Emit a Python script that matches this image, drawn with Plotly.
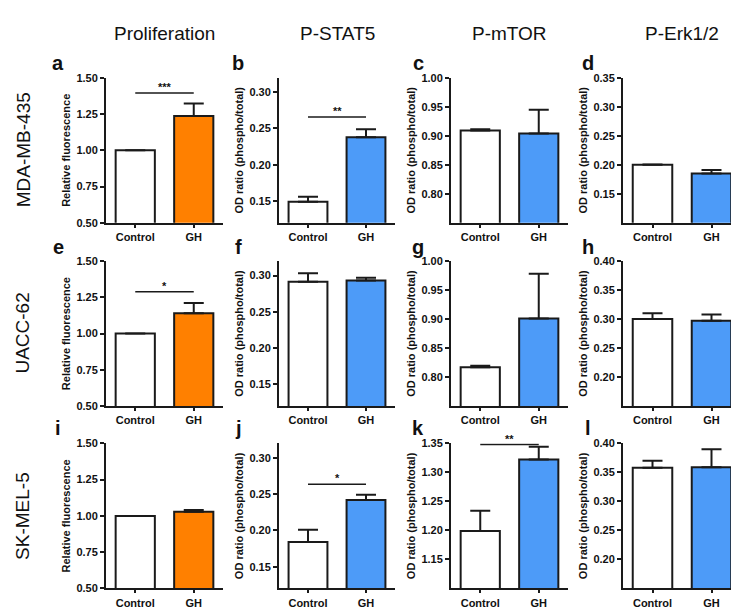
import plotly.graph_objects as go

W, H = 739, 608

categories = ["Control", "GH"]
col_titles = ["Proliferation", "P-STAT5", "P-mTOR", "P-Erk1/2"]
row_labels = ["MDA-MB-435", "UACC-62", "SK-MEL-5"]
panel_letters = ["a", "b", "c", "d", "e", "f", "g", "h", "i", "j", "k", "l"]

# means and upper SEM per panel (Control, GH)
a_mean = [1.00, 1.236]; a_err = [0.0, 0.086]
b_mean = [0.149, 0.238]; b_err = [0.007, 0.011]
c_mean = [0.909, 0.904]; c_err = [0.002, 0.041]
d_mean = [0.200, 0.185]; d_err = [0.0005, 0.006]
e_mean = [1.00, 1.140]; e_err = [0.0, 0.070]
f_mean = [0.2915, 0.293]; f_err = [0.0115, 0.004]
g_mean = [0.817, 0.901]; g_err = [0.0025, 0.077]
h_mean = [0.300, 0.297]; h_err = [0.010, 0.011]
i_mean = [1.00, 1.028]; i_err = [0.0, 0.013]
j_mean = [0.184, 0.242]; j_err = [0.017, 0.007]
k_mean = [1.199, 1.322]; k_err = [0.035, 0.022]
l_mean = [0.358, 0.359]; l_err = [0.012, 0.031]

means = [a_mean, b_mean, c_mean, d_mean, e_mean, f_mean, g_mean, h_mean, i_mean, j_mean, k_mean, l_mean]
errs = [a_err, b_err, c_err, d_err, e_err, f_err, g_err, h_err, i_err, j_err, k_err, l_err]

# y ranges and ticks
prolif_range = [0.5, 1.5]; prolif_ticks = [0.50, 0.75, 1.00, 1.25, 1.50]
stat_range = [0.12, 0.32]; stat_ticks = [0.15, 0.20, 0.25, 0.30]
mtor_range = [0.75, 1.00]; mtor_ticks = [0.80, 0.85, 0.90, 0.95, 1.00]
erk1_range = [0.10, 0.35]; erk1_ticks = [0.15, 0.20, 0.25, 0.30, 0.35]
erk_range = [0.15, 0.40]; erk_ticks = [0.20, 0.25, 0.30, 0.35, 0.40]
k_range = [1.10, 1.35]; k_ticks = [1.15, 1.20, 1.25, 1.30, 1.35]

ranges = [prolif_range, stat_range, mtor_range, erk1_range,
          prolif_range, stat_range, mtor_range, erk_range,
          prolif_range, stat_range, k_range, erk_range]
ticks = [prolif_ticks, stat_ticks, mtor_ticks, erk1_ticks,
         prolif_ticks, stat_ticks, mtor_ticks, erk_ticks,
         prolif_ticks, stat_ticks, k_ticks, erk_ticks]

# significance: panel index -> (level, stars)
sig_panels = [0, 1, 4, 9, 10]
sig_levels = [1.394, 0.266, 1.288, 0.2636, 1.348]
sig_stars = ["***", "**", "*", "*", "**"]

# layout geometry (pixels)
col_x = [(98, 215), (271, 387), (443, 560), (615, 733)]
row_y = [(65, 213), (252, 400), (438, 586)]

ORANGE = "#ff8000"
BLUE = "#4d9bf8"
DARK = "#1a1a1a"
FONT = "Liberation Sans, Arial, sans-serif"

def px(x):
    return x / W

def py(y):
    return 1 - y / H

fig = go.Figure()
layout = dict(width=W, height=H, margin=dict(l=0, r=0, t=0, b=0),
              plot_bgcolor="white", paper_bgcolor="white", showlegend=False,
              bargap=0.33)
annotations = []
shapes = []

for p in range(12):
    r, c = divmod(p, 4)
    n = p + 1
    xa = "x" if n == 1 else f"x{n}"
    ya = "y" if n == 1 else f"y{n}"
    color = ORANGE if c == 0 else BLUE
    fig.add_trace(go.Bar(
        x=categories, y=means[p], xaxis=xa, yaxis=ya,
        width=0.67,
        marker=dict(color=["white", color], line=dict(color=DARK, width=2)),
        error_y=dict(type="data", symmetric=False, array=errs[p],
                     arrayminus=[0, 0], color=DARK, thickness=2, width=10),
    ))
    x0, x1 = col_x[c]
    y0, y1 = row_y[r]
    xkey = "xaxis" if n == 1 else f"xaxis{n}"
    ykey = "yaxis" if n == 1 else f"yaxis{n}"
    layout[xkey] = dict(domain=[px(x0), px(x1)], anchor=ya, range=[-0.5, 1.5],
                        showline=True, linewidth=2, linecolor=DARK,
                        ticks="outside", ticklen=3, tickwidth=2, tickcolor=DARK,
                        showgrid=False, zeroline=False, fixedrange=True,
                        tickfont=dict(family=FONT, size=11, color="#111", weight="bold"))
    ytitle = "Relative fluorescence" if c == 0 else "OD ratio (phospho/total)"
    layout[ykey] = dict(domain=[py(y1), py(y0)], anchor=xa, range=ranges[p],
                        showline=True, linewidth=2, linecolor=DARK,
                        ticks="outside", ticklen=4, tickwidth=2, tickcolor=DARK,
                        tickvals=ticks[p], tickformat=".2f",
                        showgrid=False, zeroline=False, fixedrange=True,
                        tickfont=dict(family=FONT, size=11, color="#111", weight="bold"),
                        title=dict(text=ytitle, standoff=4,
                                   font=dict(family=FONT, size=11, color="#111", weight="bold")))
    # panel letter
    lx = [50, 230, 410, 580][c]
    ly = [50, 238, 422][r]
    annotations.append(dict(text=panel_letters[p], xref="paper", yref="paper",
                            x=px(lx), y=py(ly), xanchor="center", yanchor="middle",
                            showarrow=False,
                            font=dict(family=FONT, size=20, color="#111", weight="bold")))

for idx, lvl, st in zip(sig_panels, sig_levels, sig_stars):
    n = idx + 1
    xa = "x" if n == 1 else f"x{n}"
    ya = "y" if n == 1 else f"y{n}"
    shapes.append(dict(type="line", xref=xa, yref=ya, x0=0, x1=1, y0=lvl, y1=lvl,
                       line=dict(color=DARK, width=1.5)))
    annotations.append(dict(text=st, xref=xa, yref=ya, x=0.5, y=lvl,
                            xanchor="center", yanchor="bottom", yshift=-2,
                            showarrow=False,
                            font=dict(family=FONT, size=11, color="#111", weight="bold")))

for c, t in enumerate(col_titles):
    x0, x1 = col_x[c]
    annotations.append(dict(text=t, xref="paper", yref="paper",
                            x=px((x0 + x1) / 2), y=py(20), xanchor="center", yanchor="middle",
                            showarrow=False, font=dict(family=FONT, size=19, color="#111")))

for r, t in enumerate(row_labels):
    y0, y1 = row_y[r]
    annotations.append(dict(text=t, xref="paper", yref="paper", textangle=-90,
                            x=px(15), y=py((y0 + y1) / 2), xanchor="center", yanchor="middle",
                            showarrow=False, font=dict(family=FONT, size=19, color="#111")))

layout["annotations"] = annotations
layout["shapes"] = shapes
fig.update_layout(**layout)
fig.write_html("out.html")
